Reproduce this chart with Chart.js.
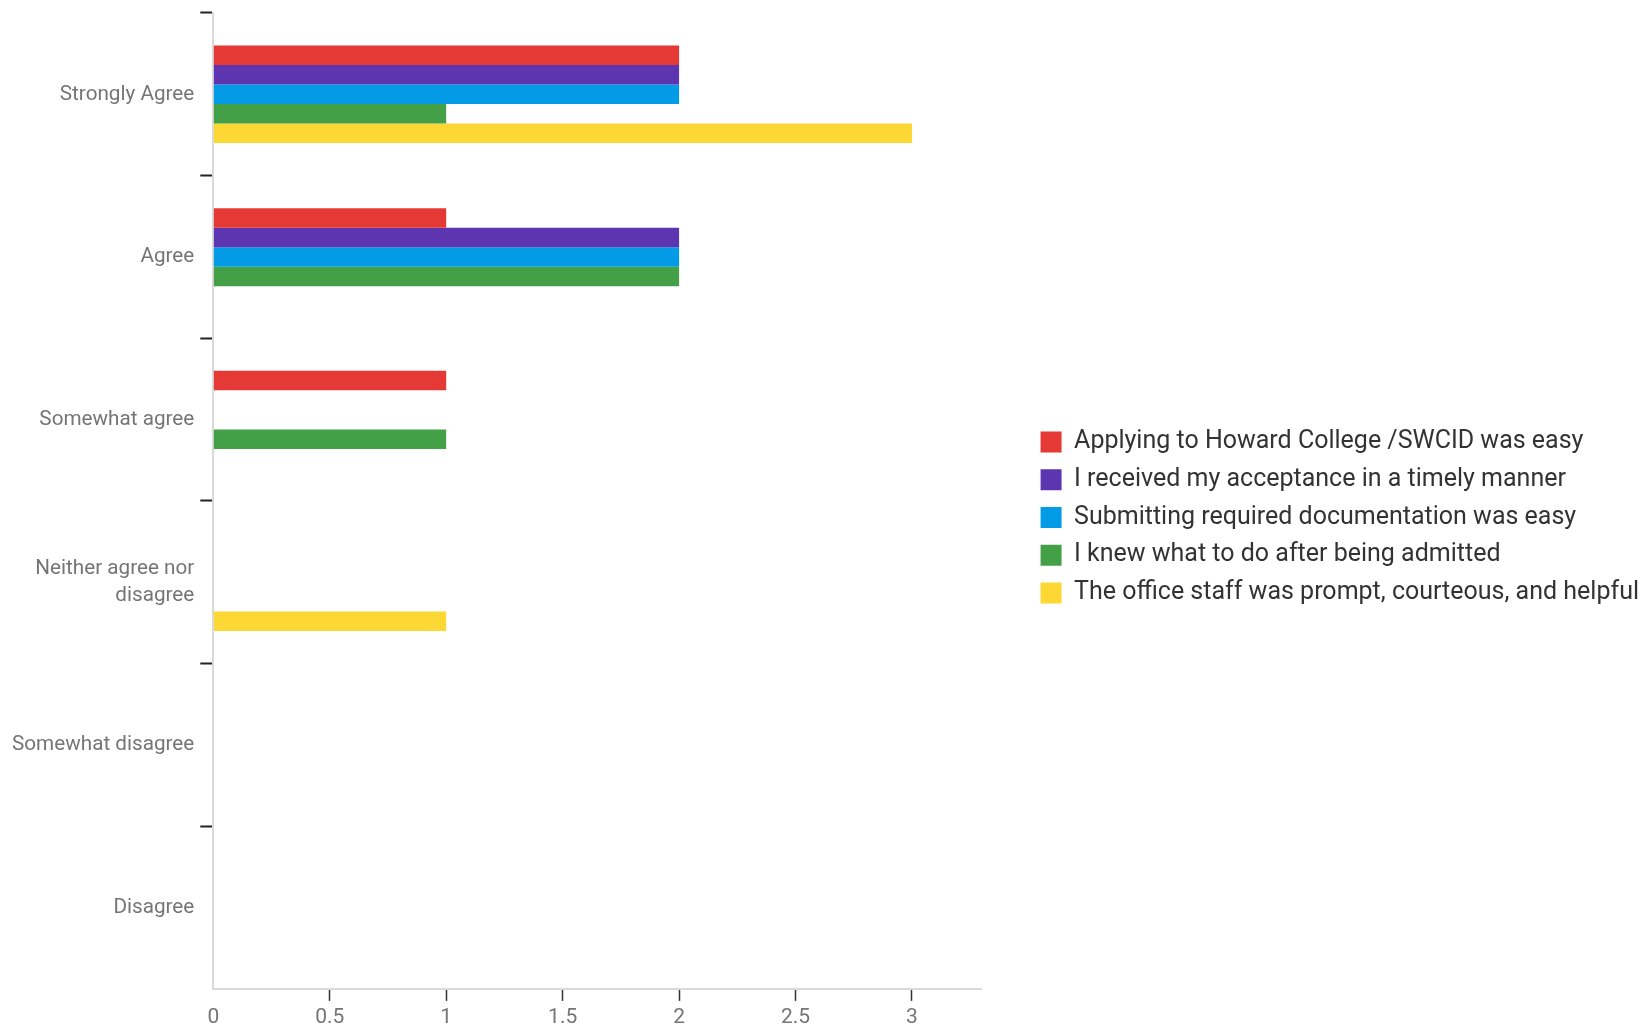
<!DOCTYPE html>
<html>
<head>
  <title>Admissions Survey</title>
  <script src="https://cdn.jsdelivr.net/npm/chart.js"></script>
  <style>
    body{
      margin:0px;
      padding:0px;
      background-color:#ffffff;
    }
    #chart_container{
      width:1643px;
      height:1026px;
    }
  </style>
</head>
<body>
<div id="chart_container">
  <canvas id="chart"></canvas>
</div>
<script>
  var categories = ['Strongly Agree', 'Agree', 'Somewhat agree', ['Neither agree nor', 'disagree'], 'Somewhat disagree', 'Disagree'];

  var applyingEasy   = [2, 1, 1, 0, 0, 0];
  var acceptanceTime = [2, 2, 0, 0, 0, 0];
  var documentsEasy  = [2, 2, 0, 0, 0, 0];
  var knewWhatToDo   = [1, 2, 1, 0, 0, 0];
  var staffHelpful   = [3, 0, 0, 1, 0, 0];

  var seriesNames = [
    'Applying to Howard College /SWCID was easy',
    'I received my acceptance in a timely manner',
    'Submitting required documentation was easy',
    'I knew what to do after being admitted',
    'The office staff was prompt, courteous, and helpful'
  ];
  var seriesColors = ['#e53935', '#5e35b1', '#039be5', '#43a047', '#fdd835'];
  var xTickValues = [0, 0.5, 1, 1.5, 2, 2.5, 3];

  var seriesData = [applyingEasy, acceptanceTime, documentsEasy, knewWhatToDo, staffHelpful];
  var datasets = seriesData.map(function(values, i){
    return {
      label: seriesNames[i],
      data: values,
      backgroundColor: seriesColors[i],
      borderWidth: 0,
      barPercentage: 1,
      categoryPercentage: 0.6
    };
  });

  // keep some empty room between the plot and the legend, nudge legend up a bit
  var legendGap = 46;
  var legendShiftY = -6;
  var legendGapPlugin = {
    id: 'legendGap',
    beforeLayout: function(chart){
      var legend = chart.legend;
      if (legend && !legend.gapPatched){
        var baseFit = legend.fit;
        legend.fit = function(){
          baseFit.apply(this, arguments);
          this.width += legendGap;
        };
        legend.gapPatched = true;
      }
    },
    afterLayout: function(chart){
      if (!chart.legend) return;
      chart.legend.left += legendGap;
      chart.legend.top += legendShiftY;
      chart.legend.bottom += legendShiftY;
    }
  };

  var ctx = document.getElementById('chart').getContext('2d');
  var chart = new Chart(ctx, {
    type: 'bar',
    data: {
      labels: categories,
      datasets: datasets
    },
    plugins: [legendGapPlugin],
    options: {
      indexAxis: 'y',
      responsive: true,
      maintainAspectRatio: false,
      animation: false,
      layout: {
        padding: { left: 6, top: 13, right: -6, bottom: -8 }
      },
      plugins: {
        tooltip: { enabled: false },
        legend: {
          position: 'right',
          maxWidth: 900,
          labels: {
            boxWidth: 21,
            boxHeight: 21,
            padding: 12.7,
            color: '#333333',
            font: { family: 'Roboto', size: 25 }
          }
        }
      },
      scales: {
        x: {
          min: 0,
          max: 3.3,
          afterBuildTicks: function(scale){
            scale.ticks = xTickValues.map(function(v){ return { value: v }; });
          },
          border: { color: '#dadada', width: 2 },
          grid: {
            drawOnChartArea: false,
            drawTicks: true,
            tickLength: 12,
            tickWidth: 1.5,
            tickColor: function(c){ return c.index === 0 ? 'rgba(0,0,0,0)' : '#333333'; }
          },
          ticks: {
            color: '#757575',
            padding: 5,
            font: { family: 'Roboto', size: 21, lineHeight: 1.1 },
            callback: function(v){ return String(v); }
          }
        },
        y: {
          afterFit: function(scale){
            scale.paddingTop = 0;
            scale.paddingBottom = 0;
          },
          border: { color: '#dadada', width: 2 },
          grid: {
            offset: true,
            drawOnChartArea: false,
            drawTicks: true,
            tickLength: 13,
            tickWidth: 2,
            tickColor: function(c){ return c.type === 'tick' ? '#222222' : 'rgba(0,0,0,0)'; }
          },
          ticks: {
            color: '#757575',
            padding: 6,
            font: { family: 'Roboto', size: 20.7, lineHeight: 1.3 }
          }
        }
      }
    }
  });
</script>
</body>
</html>
